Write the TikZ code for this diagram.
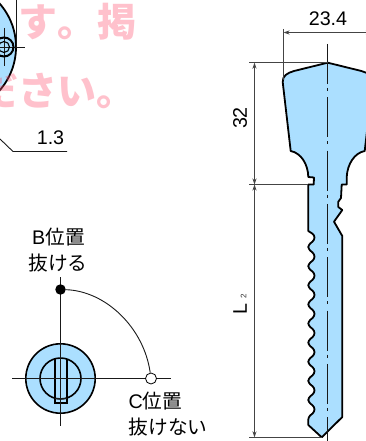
\documentclass[tikz,border=0pt]{standalone}
\usepackage{fontspec}
\setmainfont{Liberation Sans}
\newfontfamily\cjk{Noto Sans CJK JP}
\usetikzlibrary{arrows.meta}
\definecolor{keyblue}{HTML}{ABDFFF}
\definecolor{dimgrey}{HTML}{444444}
\tikzset{
  outline/.style={draw=black,line width=1.8pt,fill=keyblue,line join=round},
  thickline/.style={draw=black,line width=1.7pt},
  thinline/.style={draw=black!90,line width=0.9pt},
  dimline/.style={draw=dimgrey,line width=1pt},
  dimarrow/.style={dimline,{Stealth[length=6pt,width=4pt]}-{Stealth[length=6pt,width=4pt]}},
  centreline/.style={draw=black!90,line width=0.9pt,dash pattern=on 40pt off 4pt on 3pt off 6.3pt},
  label/.style={inner sep=0pt,font=\fontsize{19.7}{22}\selectfont,text=black},
  watermark/.style={inner sep=0pt,anchor=base,font=\cjk\bfseries\fontsize{39}{39}\selectfont,text={rgb,255:red,255;green,80;blue,110},text opacity=.35},
}
\begin{document}
\begin{tikzpicture}[x=1pt,y=-1pt]
\clip (0,0) rectangle (366,441);
\fill[white] (0,0) rectangle (366,441);
% --- coordinates
\coordinate (apex) at (327.7,62.7);
\coordinate (tip) at (321.7,437.3);
\coordinate (neckL) at (308.3,184.5);
\coordinate (dimT) at (254.5,62.7);
\coordinate (dimM) at (254.5,184.5);
\coordinate (dimB) at (254.5,437.3);
\coordinate (lockC) at (60.5,378.5);
\coordinate (headC) at (4,47);
% --- top-left detail
\fill[keyblue,draw=black,line width=1.8pt] (-49.8,47) circle[radius=65.8];
\draw[thinline] (16,0) -- (16,47);
\draw[thinline] (0,47) -- (24.5,47);
\draw[thinline] (headC |- 0,28) -- (headC |- 0,66);
\draw[line width=2pt] (headC) circle[radius=9.5];
\draw[line width=1.1pt] (headC) circle[radius=5.5];
% --- leader 1.3
\coordinate (leadA) at (0,139);
\coordinate (leadB) at (13,151.5);
\coordinate (leadC) at (67,151.5);
\draw[thinline] (leadA) -- (leadB) -- (leadC);
\node[label] (t13) at (50.5,138) {1.3};
% --- key
\draw[outline] (apex) -- (294,71) .. controls (287,73) and (282.5,76) .. (282.7,82)
  -- (290.7,151) .. controls (301,153) and (308,164) .. (308.3,177)
  -- (314,177.5) -- (313.7,184.5) -- (neckL)
  -- (308.3,231)
  [rounded corners=2.5pt]
  -- (314.5,235) -- (314.5,240) -- (308.3,245) -- (308.3,249)
  -- (314.5,254.1) -- (314.5,259.1) -- (308.3,264.2) -- (308.3,268.2)
  -- (314.5,273.2) -- (314.5,278.2) -- (308.3,283.3) -- (308.3,287.3)
  -- (314.5,292.3) -- (314.5,297.3) -- (308.3,302.4) -- (308.3,306.4)
  -- (314.5,311.4) -- (314.5,316.4) -- (308.3,321.5) -- (308.3,325.5)
  -- (314.5,330.5) -- (314.5,335.5) -- (308.3,340.6) -- (308.3,344.6)
  -- (314.5,349.6) -- (314.5,354.6) -- (308.3,359.7) -- (308.3,363.7)
  -- (314.5,368.7) -- (314.5,373.7) -- (308.3,378.8) -- (308.3,382.8)
  -- (314.5,387.8) -- (314.5,392.8) -- (308.3,397.9) -- (308.3,401.9)
  -- (314.5,406.9) -- (314.5,411.9) -- (308.3,417)
  [sharp corners]
  -- (308.3,425) -- (tip) -- (342.3,417) -- (342.3,236) -- (334,221.7)
  -- (342.3,210) -- (338.3,207) -- (338.3,201.7) -- (341,198) -- (341.7,184.5)
  -- (346.7,184.5) -- (346.7,177) .. controls (347.4,164) and (354.4,153) .. (364.7,151)
  -- (372.7,82) .. controls (372.9,76) and (368.4,73) .. (361.4,71) -- cycle;
\draw[centreline] (327.6,44) -- (327.6,441);
% --- dimensions
\draw[dimline] (283.5,29) -- (283.5,80);
\draw[dimarrow] (283.5,32.5) -- (372,32.5);
\node[label] (t234) at (328,18.5) {23.4};
\draw[dimline] (249,62.7) -- (apex);
\draw[dimline] (249,184.5) -- (neckL);
\draw[dimline] (249,437.3) -- (tip);
\draw[dimarrow] (dimT) -- (dimM);
\draw[dimarrow] (dimM) -- (dimB);
\node[label,rotate=90] (t32) at (240,118) {32};
\node[label,rotate=90] (tL) at (240,309) {L};
\node[inner sep=0pt,rotate=90,font=\fontsize{8}{9}\selectfont,text=black!80] (t2) at (243.5,296) {2};
% --- lock face
\draw[thinline] (60.5,277) -- (60.5,340);
\draw[outline,line width=1.6pt] (lockC) circle[radius=34.7];
\draw[thickline,line width=1.6pt] (lockC) circle[radius=20.5];
\draw[thickline,line width=1.6pt] (55,358.7) -- (55,402.7) -- (66.7,402.7) -- (66.7,358.7);
\draw[thinline] (55,398.7) -- (66.7,398.7);
\draw[thinline] (60.5,340) -- (60.5,426);
\draw[thinline] (12,378.5) -- (171,378.5);
\node[circle,fill=black,minimum size=10.5pt,inner sep=0pt] (posB) at (60.5,289.5) {};
\node[circle,draw=black,line width=0.8pt,fill=white,minimum size=11pt,inner sep=0pt] (posC) at (151,378.5) {};
\draw[thinline] (posB) .. controls (106,291) and (144,328) .. (posC);
\node[label] (tB1) at (58.5,237) {B{\cjk 位置}};
\node[label] (tB2) at (58,263) {{\cjk 抜ける}};
\node[label] (tC1) at (155.5,401) {C{\cjk 位置}};
\node[label] (tC2) at (168,427) {{\cjk 抜けない}};
% --- watermark
\node[watermark] (wmA) at (38,36.8) {す};
\node[watermark] (wmB) at (77,36.8) {。};
\node[watermark] (wmC) at (117,36.8) {掲};
\node[watermark] (wmD) at (-1,105.8) {だ};
\node[watermark] (wmE) at (38,105.8) {さ};
\node[watermark] (wmF) at (77,105.8) {い};
\node[watermark] (wmG) at (116,105.8) {。};
\end{tikzpicture}
\end{document}
